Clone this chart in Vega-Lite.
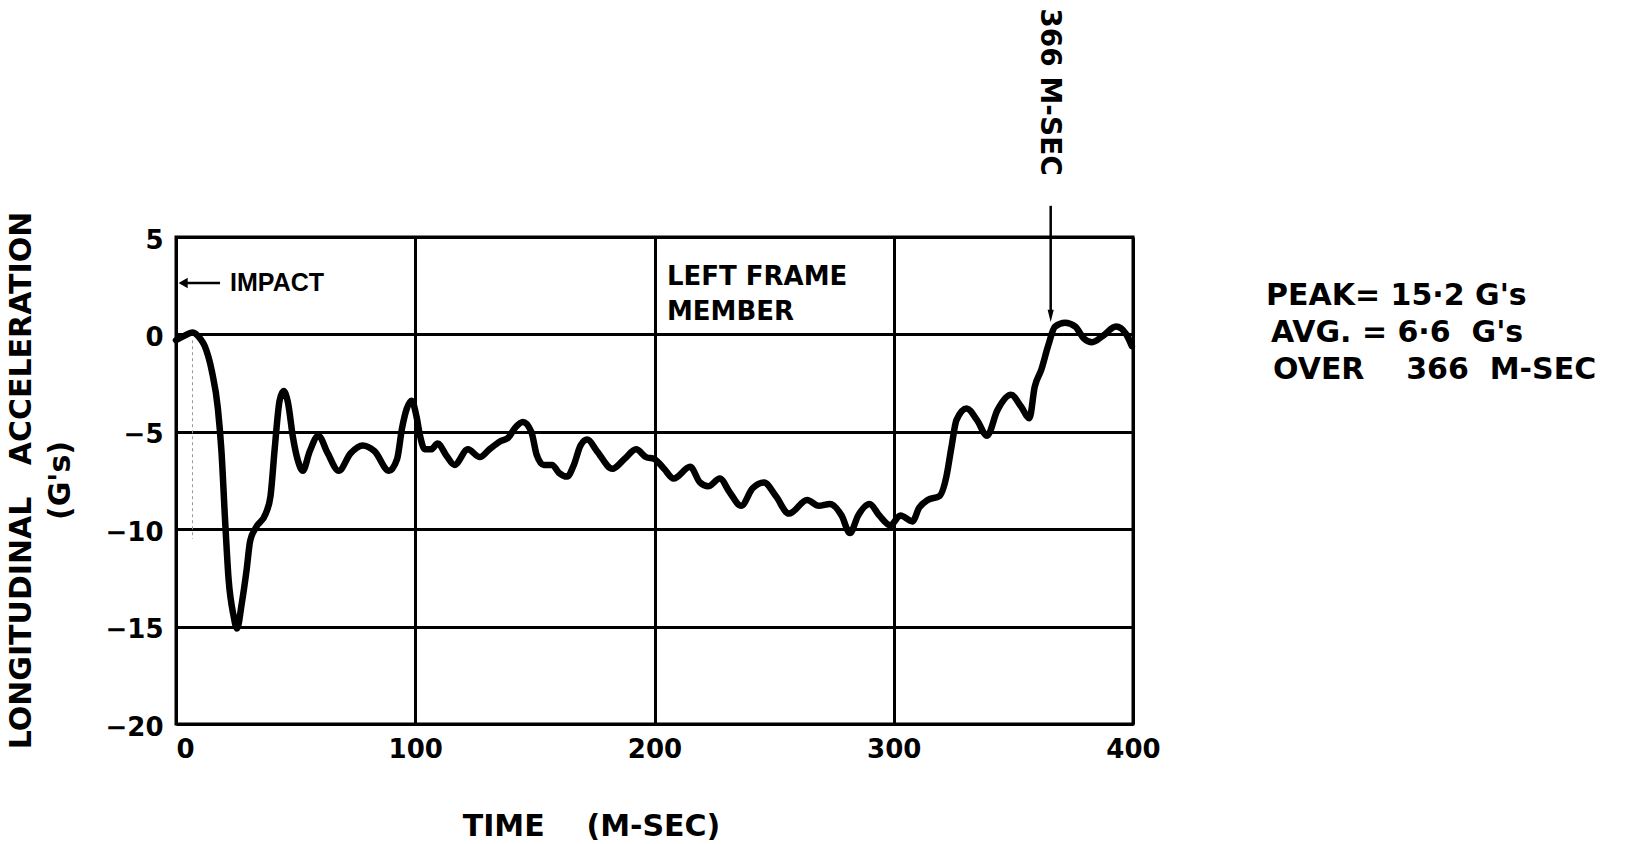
{
  "$schema": "https://vega.github.io/schema/vega-lite/v6.json",
  "autosize": {"type": "none"},
  "width": 957,
  "height": 487,
  "padding": {"left": 176, "top": 237, "right": 492, "bottom": 120},
  "background": "white",
  "config": {
    "view": {"stroke": "black", "strokeWidth": 3},
    "axis": {"gridOpacity": 1}
  },
  "data": {"values": [
    {"t": 0, "g": -0.3}, {"t": 3, "g": -0.1}, {"t": 7, "g": 0.1}, {"t": 10, "g": -0.2},
    {"t": 12, "g": -0.6}, {"t": 15, "g": -1.9}, {"t": 17.5, "g": -3.8}, {"t": 19, "g": -6},
    {"t": 20.5, "g": -9.5}, {"t": 22, "g": -12.6}, {"t": 24, "g": -14.4}, {"t": 25.5, "g": -15.1},
    {"t": 27.5, "g": -13.8}, {"t": 29.5, "g": -12.1}, {"t": 31, "g": -10.6}, {"t": 33.5, "g": -9.9},
    {"t": 37.5, "g": -9.2}, {"t": 39.5, "g": -8.3}, {"t": 41.3, "g": -5.8}, {"t": 43.3, "g": -3.4},
    {"t": 45, "g": -2.9}, {"t": 46.8, "g": -3.5}, {"t": 48.9, "g": -5.3}, {"t": 51, "g": -6.5},
    {"t": 53, "g": -7.0}, {"t": 55.9, "g": -6.0}, {"t": 59.5, "g": -5.2}, {"t": 63.4, "g": -6.1},
    {"t": 68, "g": -7.0}, {"t": 73, "g": -6.1}, {"t": 78, "g": -5.7}, {"t": 83, "g": -6.0},
    {"t": 89, "g": -7.0}, {"t": 92.4, "g": -6.4}, {"t": 94.5, "g": -4.8}, {"t": 96.5, "g": -3.8},
    {"t": 98.5, "g": -3.4}, {"t": 100.5, "g": -4.2}, {"t": 102, "g": -5.2}, {"t": 104, "g": -5.9},
    {"t": 106.6, "g": -5.9}, {"t": 109.4, "g": -5.6}, {"t": 112.9, "g": -6.2}, {"t": 116.4, "g": -6.7},
    {"t": 122, "g": -5.9}, {"t": 127, "g": -6.3}, {"t": 131, "g": -5.9}, {"t": 135.4, "g": -5.5},
    {"t": 138.9, "g": -5.3}, {"t": 141.7, "g": -4.8}, {"t": 145, "g": -4.5}, {"t": 148.5, "g": -5.0},
    {"t": 150.8, "g": -6.2}, {"t": 153.7, "g": -6.7}, {"t": 157.2, "g": -6.7}, {"t": 160, "g": -7.1},
    {"t": 163.5, "g": -7.3}, {"t": 166.3, "g": -6.7}, {"t": 169.1, "g": -5.7}, {"t": 171.9, "g": -5.4},
    {"t": 176, "g": -6.0}, {"t": 182.4, "g": -6.9}, {"t": 187.4, "g": -6.4}, {"t": 192.3, "g": -5.9},
    {"t": 196.5, "g": -6.3}, {"t": 200, "g": -6.4}, {"t": 204, "g": -6.9}, {"t": 208, "g": -7.4},
    {"t": 214.9, "g": -6.8}, {"t": 219, "g": -7.6}, {"t": 222.4, "g": -7.8}, {"t": 227.3, "g": -7.4},
    {"t": 231.4, "g": -8.1}, {"t": 236.2, "g": -8.8}, {"t": 241, "g": -7.9}, {"t": 245.8, "g": -7.6},
    {"t": 250.7, "g": -8.3}, {"t": 256.2, "g": -9.2}, {"t": 263.8, "g": -8.5}, {"t": 268.6, "g": -8.8},
    {"t": 273.4, "g": -8.7}, {"t": 278.2, "g": -9.3}, {"t": 281.7, "g": -10.2}, {"t": 285.1, "g": -9.3},
    {"t": 289.9, "g": -8.7}, {"t": 294, "g": -9.3}, {"t": 298.6, "g": -9.8}, {"t": 302.8, "g": -9.3},
    {"t": 307.8, "g": -9.6}, {"t": 310.6, "g": -8.9}, {"t": 314.2, "g": -8.5}, {"t": 319.1, "g": -8.3},
    {"t": 322, "g": -7.3}, {"t": 324.1, "g": -5.8}, {"t": 326.2, "g": -4.4}, {"t": 330.5, "g": -3.8},
    {"t": 334.8, "g": -4.4}, {"t": 339, "g": -5.2}, {"t": 343.3, "g": -3.9}, {"t": 349, "g": -3.1},
    {"t": 353.2, "g": -3.7}, {"t": 356.7, "g": -4.3}, {"t": 358.9, "g": -2.7}, {"t": 361.7, "g": -1.8},
    {"t": 364.5, "g": -0.6}, {"t": 367.4, "g": 0.4}, {"t": 371.6, "g": 0.6}, {"t": 375.9, "g": 0.4},
    {"t": 379.4, "g": -0.2}, {"t": 382.9, "g": -0.4}, {"t": 387.2, "g": -0.1}, {"t": 392.9, "g": 0.4},
    {"t": 397.2, "g": 0.0}, {"t": 399.5, "g": -0.6}
  ]},
  "encoding": {
    "x": {"field": "t", "type": "quantitative", "scale": {"domain": [0, 400], "nice": false, "zero": false}},
    "y": {"field": "g", "type": "quantitative", "scale": {"domain": [-20, 5], "nice": false, "zero": false}}
  },
  "layer": [
    {
      "mark": {"type": "line", "color": "black", "strokeWidth": 6.5, "interpolate": "monotone", "strokeCap": "round", "strokeJoin": "round"},
      "encoding": {
        "x": {"field": "t", "type": "quantitative",
          "axis": {
            "values": [0, 100, 200, 300, 400],
            "grid": true, "gridColor": "black", "gridWidth": 3,
            "domain": false, "ticks": false,
            "labelFont": "DejaVu Sans", "labelFontSize": 26, "labelFontWeight": "bold", "labelColor": "black",
            "labelPadding": 12, "labelFlush": false,
            "labelAlign": {"condition": {"test": "datum.value === 0", "value": "left"}, "value": "center"},
            "title": "TIME\u00a0\u00a0\u00a0\u00a0(M-SEC)",
            "titleFont": "DejaVu Sans", "titleFontSize": 30, "titleFontWeight": "bold", "titleColor": "black",
            "titleX": 415, "titleY": 102, "titleAlign": "center", "titleBaseline": "middle", "titleAnchor": null
          }
        },
        "y": {"field": "g", "type": "quantitative",
          "axis": {
            "values": [-20, -15, -10, -5, 0, 5],
            "grid": true, "gridColor": "black", "gridWidth": 3,
            "domain": false, "ticks": false,
            "labelFont": "DejaVu Sans", "labelFontSize": 26, "labelFontWeight": "bold", "labelColor": "black",
            "labelPadding": 13, "labelFlush": false, "labelOffset": 3,
            "title": ["LONGITUDINAL\u00a0\u00a0\u00a0ACCELERATION", "(G's)"],
            "titleFont": "DejaVu Sans", "titleFontSize": 30, "titleFontWeight": "bold", "titleColor": "black",
            "titleLineHeight": 39,
            "titleAngle": -90, "titleX": -155, "titleY": 243, "titleAlign": "center", "titleBaseline": "middle", "titleAnchor": null
          }
        }
      }
    },
    {
      "data": {"values": [{"t": 6.9, "g": -0.3, "g2": -10.5}]},
      "mark": {"type": "rule", "color": "#9a9a9a", "strokeWidth": 1, "strokeDash": [3, 3]},
      "encoding": {"y2": {"field": "g2"}}
    },
    {
      "data": {"values": [{"t": 2, "g": 2.64, "t2": 18.4}]},
      "mark": {"type": "rule", "color": "black", "strokeWidth": 2.5},
      "encoding": {"x2": {"field": "t2"}}
    },
    {
      "data": {"values": [{"t": 3.0, "g": 2.64}]},
      "mark": {"type": "point", "shape": "triangle-left", "filled": true, "color": "black", "size": 110, "opacity": 1},
      "encoding": {}
    },
    {
      "data": {"values": [{"t": 365.6, "g": 6.6, "g2": 1.2}]},
      "mark": {"type": "rule", "color": "black", "strokeWidth": 2.5},
      "encoding": {"y2": {"field": "g2"}}
    },
    {
      "data": {"values": [{"t": 365.6, "g": 0.95}]},
      "mark": {"type": "point", "shape": "M-0.5,-1L0.5,-1L0,1Z", "filled": true, "color": "black", "size": 150, "opacity": 1},
      "encoding": {}
    },
    {
      "data": {"values": [{"t": 22.6, "g": 2.64, "label": "IMPACT"}]},
      "mark": {"type": "text", "align": "left", "baseline": "middle", "font": "Liberation Sans", "fontWeight": "bold", "fontSize": 25, "color": "black"},
      "encoding": {"text": {"field": "label"}}
    },
    {
      "data": {"values": [
        {"t": 205.2, "g": 2.95, "label": "LEFT FRAME"},
        {"t": 205.2, "g": 1.15, "label": "MEMBER"}
      ]},
      "mark": {"type": "text", "align": "left", "baseline": "middle", "font": "DejaVu Sans", "fontWeight": "bold", "fontSize": 26, "color": "black"},
      "encoding": {"text": {"field": "label"}}
    },
    {
      "data": {"values": [{"t": 365.0, "g": 12.44, "label": "366 M-SEC"}]},
      "mark": {"type": "text", "align": "center", "baseline": "middle", "angle": 90, "font": "DejaVu Sans", "fontWeight": "bold", "fontSize": 28, "color": "black"},
      "encoding": {"text": {"field": "label"}}
    },
    {
      "data": {"values": [
        {"t": 455.6, "g": 1.97, "label": "PEAK= 15\u00b72 G's"},
        {"t": 457.7, "g": 0.07, "label": "AVG. = 6\u00b76\u00a0 G's"},
        {"t": 458.5, "g": -1.83, "label": "OVER\u00a0\u00a0\u00a0 366\u00a0 M-SEC"}
      ]},
      "mark": {"type": "text", "align": "left", "baseline": "middle", "font": "DejaVu Sans", "fontWeight": "bold", "fontSize": 30, "color": "black"},
      "encoding": {"text": {"field": "label"}}
    }
  ]
}
